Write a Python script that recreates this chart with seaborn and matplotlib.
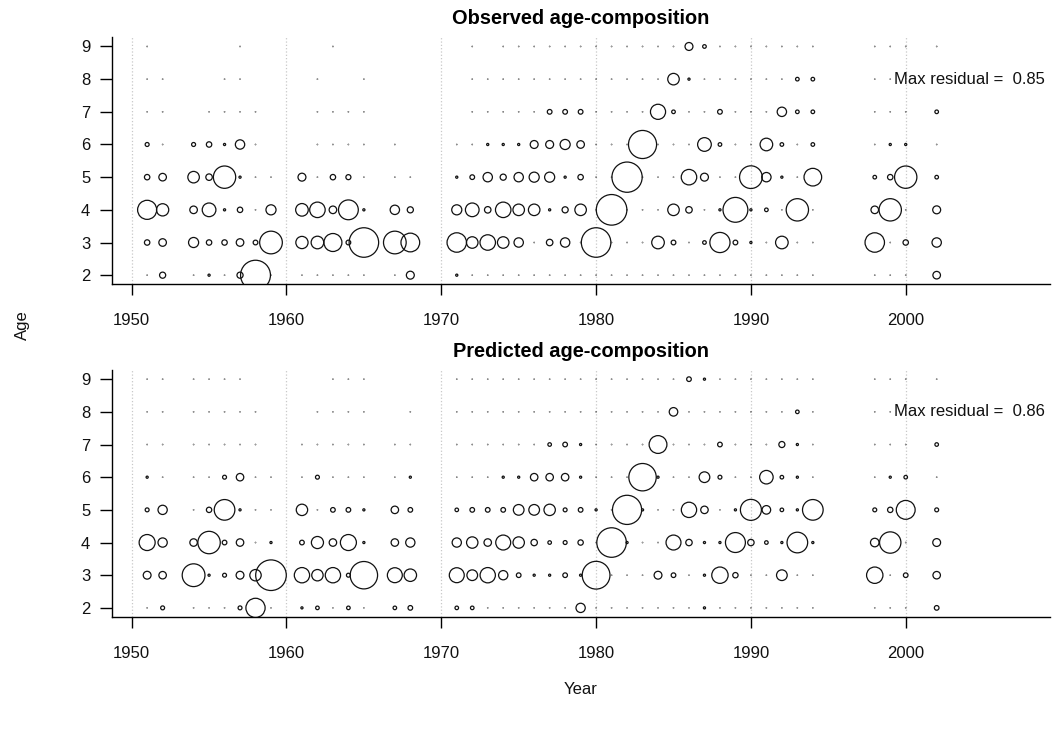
import numpy as np
import pandas as pd
import matplotlib
matplotlib.use("Agg")
import matplotlib.pyplot as plt
import seaborn as sns

nan = np.nan

# Sampling years (gaps are years without samples)
years = [1951, 1952, 1954, 1955, 1956, 1957, 1958, 1959, 1961, 1962, 1963, 1964, 1965, 1967, 1968,
         1971, 1972, 1973, 1974, 1975, 1976, 1977, 1978, 1979, 1980, 1981, 1982, 1983, 1984, 1985,
         1986, 1987, 1988, 1989, 1990, 1991, 1992, 1993, 1994,
         1998, 1999, 2000, 2002]
ages = [2, 3, 4, 5, 6, 7, 8, 9]
decades = [1950, 1960, 1970, 1980, 1990, 2000]

# Observed proportions at age (NaN = not sampled)
obs_9 = [0.01, nan, nan, nan, nan, 0.01, nan, nan, nan, nan, 0.01, nan, nan, nan, nan,
         nan, 0.01, nan, 0.01, 0.01, 0.01, 0.01, 0.01, 0.01, 0.01, 0.01, 0.01, 0.01, 0.01, 0.01,
         0.22, 0.10, 0.01, 0.01, 0.01, 0.01, 0.01, 0.01, 0.01,
         0.01, 0.01, 0.01, 0.01]
obs_8 = [0.01, 0.01, nan, nan, 0.01, 0.01, nan, nan, nan, 0.01, nan, nan, 0.01, nan, nan,
         nan, 0.01, 0.01, 0.01, 0.01, 0.01, 0.01, 0.01, 0.01, 0.01, 0.01, 0.01, 0.01, 0.01, 0.32,
         0.06, 0.01, 0.01, 0.01, 0.01, 0.01, 0.01, 0.10, 0.10,
         0.01, 0.01, nan, nan]
obs_7 = [0.01, 0.01, nan, 0.01, 0.01, 0.01, 0.01, nan, nan, 0.01, 0.01, 0.01, 0.01, nan, nan,
         nan, 0.01, 0.01, 0.01, 0.01, 0.01, 0.13, 0.13, 0.13, 0.01, 0.01, 0.01, 0.01, 0.42, 0.10,
         0.01, 0.01, 0.13, 0.01, 0.01, 0.01, 0.26, 0.10, 0.10,
         0.01, 0.01, 0.01, 0.10]
obs_6 = [0.11, 0.01, 0.11, 0.15, 0.06, 0.26, 0.01, nan, nan, 0.01, 0.01, 0.01, 0.01, 0.01, nan,
         0.01, 0.01, 0.06, 0.06, 0.06, 0.22, 0.22, 0.28, 0.21, 0.01, 0.01, 0.01, 0.78, 0.01, 0.01,
         0.01, 0.38, 0.10, 0.01, 0.01, 0.35, 0.10, 0.01, 0.10,
         0.01, 0.06, 0.06, 0.01]
obs_5 = [0.15, 0.21, 0.32, 0.18, 0.62, 0.06, 0.01, 0.01, 0.22, 0.01, 0.15, 0.14, 0.01, 0.01, 0.01,
         0.06, 0.13, 0.26, 0.17, 0.26, 0.28, 0.28, 0.06, 0.15, 0.01, 0.01, 0.84, 0.01, 0.01, 0.01,
         0.43, 0.22, 0.01, 0.01, 0.63, 0.26, 0.06, 0.01, 0.49,
         0.10, 0.15, 0.62, 0.10]
obs_4 = [0.53, 0.34, 0.21, 0.38, 0.06, 0.15, 0.01, 0.28, 0.35, 0.43, 0.21, 0.55, 0.06, 0.26, 0.17,
         0.28, 0.38, 0.18, 0.43, 0.32, 0.32, 0.06, 0.17, 0.32, 0.01, 0.85, 0.01, 0.01, 0.01, 0.32,
         0.18, 0.01, 0.06, 0.69, 0.06, 0.10, 0.01, 0.62, 0.01,
         0.21, 0.62, 0.01, 0.22]
obs_3 = [0.15, 0.21, 0.28, 0.15, 0.15, 0.21, 0.13, 0.63, 0.34, 0.35, 0.50, 0.13, 0.82, 0.63, 0.52,
         0.54, 0.32, 0.43, 0.32, 0.26, 0.01, 0.18, 0.26, 0.01, 0.82, 0.01, 0.01, 0.01, 0.35, 0.13,
         0.01, 0.10, 0.56, 0.13, 0.06, 0.01, 0.35, 0.01, 0.01,
         0.54, 0.01, 0.15, 0.26]
obs_2 = [0.01, 0.17, 0.01, 0.06, 0.01, 0.17, 0.83, 0.01, 0.01, 0.01, 0.01, 0.01, 0.01, 0.01, 0.22,
         0.06, 0.01, 0.01, 0.01, 0.01, 0.01, 0.01, 0.01, 0.01, 0.01, 0.01, 0.01, 0.01, 0.01, 0.01,
         0.01, 0.01, 0.01, 0.01, 0.01, 0.01, 0.01, 0.01, 0.01,
         0.01, 0.01, 0.01, 0.21]

# Model-predicted proportions at age
pred_9 = [0.01, 0.01, 0.01, 0.01, 0.01, 0.01, nan, nan, nan, nan, 0.01, 0.01, 0.01, nan, nan,
          0.01, 0.01, 0.01, 0.01, 0.01, 0.01, 0.01, 0.01, 0.01, 0.01, 0.01, 0.01, 0.01, 0.01, 0.01,
          0.13, 0.06, 0.01, 0.01, 0.01, 0.01, 0.01, 0.01, 0.01,
          0.01, 0.01, 0.01, 0.01]
pred_8 = [0.01, 0.01, 0.01, 0.01, 0.01, 0.01, 0.01, nan, nan, 0.01, 0.01, 0.01, 0.01, nan, 0.01,
          0.01, 0.01, 0.01, 0.01, 0.01, 0.01, 0.01, 0.01, 0.01, 0.01, 0.01, 0.01, 0.01, 0.01, 0.24,
          0.01, 0.01, 0.01, 0.01, 0.01, 0.01, 0.01, 0.10, 0.01,
          0.01, 0.01, nan, nan]
pred_7 = [0.01, 0.01, 0.01, 0.01, 0.01, 0.01, 0.01, nan, 0.01, 0.01, 0.01, 0.01, 0.01, 0.01, 0.01,
          0.01, 0.01, 0.01, 0.01, 0.01, 0.01, 0.10, 0.13, 0.06, 0.01, 0.01, 0.01, 0.01, 0.50, 0.01,
          0.01, 0.01, 0.13, 0.01, 0.01, 0.01, 0.17, 0.06, 0.01,
          0.01, 0.01, 0.01, 0.10]
pred_6 = [0.06, 0.01, 0.01, 0.01, 0.11, 0.21, 0.01, 0.01, 0.01, 0.11, 0.01, 0.01, 0.01, 0.01, 0.06,
          0.01, 0.01, 0.01, 0.06, 0.06, 0.21, 0.21, 0.21, 0.06, 0.01, 0.01, 0.01, 0.77, 0.06, 0.01,
          0.01, 0.30, 0.11, 0.01, 0.01, 0.38, 0.10, 0.06, 0.01,
          0.01, 0.06, 0.10, 0.01]
pred_5 = [0.11, 0.26, 0.01, 0.15, 0.58, 0.06, 0.01, 0.01, 0.32, 0.01, 0.13, 0.13, 0.06, 0.21, 0.13,
          0.10, 0.13, 0.13, 0.13, 0.30, 0.30, 0.32, 0.11, 0.13, 0.06, 0.01, 0.82, 0.06, 0.01, 0.01,
          0.43, 0.21, 0.01, 0.06, 0.59, 0.24, 0.10, 0.06, 0.58,
          0.11, 0.15, 0.53, 0.11]
pred_4 = [0.45, 0.26, 0.21, 0.63, 0.13, 0.21, 0.01, 0.06, 0.13, 0.34, 0.21, 0.45, 0.06, 0.21, 0.26,
          0.26, 0.32, 0.21, 0.42, 0.32, 0.18, 0.10, 0.11, 0.15, 0.01, 0.83, 0.06, 0.01, 0.01, 0.42,
          0.18, 0.06, 0.06, 0.56, 0.18, 0.10, 0.06, 0.58, 0.06,
          0.24, 0.60, 0.01, 0.22]
pred_3 = [0.22, 0.21, 0.64, 0.06, 0.11, 0.22, 0.32, 0.86, 0.43, 0.32, 0.43, 0.11, 0.77, 0.42, 0.35,
          0.42, 0.30, 0.43, 0.26, 0.13, 0.06, 0.06, 0.13, 0.06, 0.78, 0.01, 0.01, 0.01, 0.22, 0.13,
          0.01, 0.06, 0.46, 0.15, 0.01, 0.01, 0.30, 0.01, 0.01,
          0.46, 0.01, 0.13, 0.21]
pred_2 = [0.01, 0.11, 0.01, 0.01, 0.01, 0.11, 0.54, 0.01, 0.06, 0.10, 0.01, 0.10, 0.01, 0.10, 0.13,
          0.10, 0.10, 0.01, 0.01, 0.01, 0.01, 0.01, 0.01, 0.26, 0.01, 0.01, 0.01, 0.01, 0.01, 0.01,
          0.01, 0.06, 0.01, 0.01, 0.01, 0.01, 0.01, 0.01, 0.01,
          0.01, 0.01, 0.01, 0.13]

observed = [obs_2, obs_3, obs_4, obs_5, obs_6, obs_7, obs_8, obs_9]
predicted = [pred_2, pred_3, pred_4, pred_5, pred_6, pred_7, pred_8, pred_9]


def long_table(rows):
    recs = []
    for age, row in zip(ages, rows):
        assert len(row) == len(years), (age, len(row))
        for yr, v in zip(years, row):
            if not np.isnan(v):
                recs.append((yr, age, v))
    df = pd.DataFrame(recs, columns=["Year", "Age", "value"])
    # circle radius proportional to the value -> marker area ~ value**2
    df["area"] = df["value"] ** 2
    return df


sns.set_style("white")
plt.rcParams["font.family"] = ["Liberation Sans", "DejaVu Sans"]

W, H = 1055, 729
fig = plt.figure(figsize=(W / 100, H / 100), dpi=100)

r_max_px = 15.3                      # radius of the largest bubble
s_max = (2 * r_max_px * 0.72) ** 2   # marker area in pt^2

panels = [
    ("Observed age-composition", observed, 284.0, 24.0),
    ("Predicted age-composition", predicted, 616.7, 357.0),
]

for title, rows, bottom_px, title_px in panels:
    ax = fig.add_axes([112 / W, 1 - bottom_px / H, 938 / W, 247 / H])
    df = long_table(rows)
    vmax = df["value"].max()

    sns.scatterplot(data=df, x="Year", y="Age", size="area",
                    sizes=(0, s_max), size_norm=(0, vmax ** 2),
                    facecolor="none", edgecolor="#111111", linewidth=0.9,
                    legend=False, ax=ax, zorder=3)

    ax.set_xlim(1948.73, 2009.32)
    ax.set_ylim(1.73, 9.29)
    ax.set_xticks(decades)
    ax.set_yticks(ages)
    ax.grid(axis="x", color="#c8c8c8", linestyle=":", linewidth=0.9)
    ax.grid(axis="y", visible=False)
    ax.set_axisbelow(True)
    for side in ("top", "right"):
        ax.spines[side].set_visible(False)
    for side in ("left", "bottom"):
        ax.spines[side].set_color("black")
        ax.spines[side].set_linewidth(1.0)
    ax.tick_params(axis="x", length=8, width=1, pad=13, labelsize=12,
                   color="black", labelcolor="#111111", bottom=True)
    ax.tick_params(axis="y", length=8.6, width=1, pad=7, labelsize=12,
                   color="black", labelcolor="#111111", left=True)
    ax.set_xlabel("")
    ax.set_ylabel("")

    ax.text(1999.24, 8, f"Max residual =  {vmax:.2f}", ha="left", va="center",
            fontsize=12, color="#111111")
    fig.text(581 / W, 1 - title_px / H, title, ha="center", va="baseline",
             fontsize=14.4, fontweight="bold", color="black")

fig.text(22 / W, 1 - 325 / H, "Age", rotation=90, ha="center", va="center",
         fontsize=12, color="#111111")
fig.text(581 / W, 1 - 689 / H, "Year", ha="center", va="center",
         fontsize=12, color="#111111")

fig.savefig("out.png", dpi=100)
